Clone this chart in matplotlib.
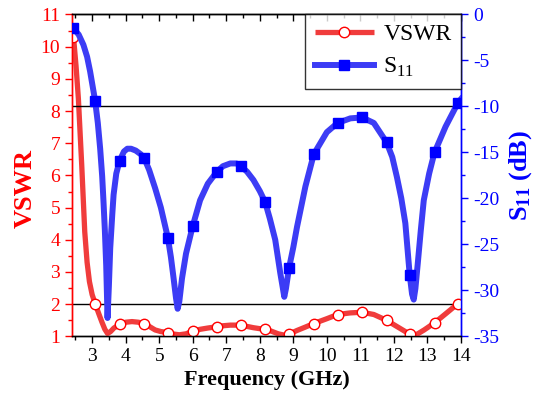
import numpy as np
import matplotlib
matplotlib.use('Agg')
import matplotlib.pyplot as plt
from matplotlib.ticker import MultipleLocator

plt.rcParams['font.family'] = ['Liberation Serif', 'DejaVu Serif']
plt.rcParams['mathtext.fontset'] = 'custom'
plt.rcParams['mathtext.rm'] = 'Liberation Serif'
plt.rcParams['mathtext.bf'] = 'Liberation Serif:bold'
plt.rcParams['axes.unicode_minus'] = False

# S11 curve (GHz, dB)
freq_s11 = [2.44, 2.6, 2.74, 2.85, 2.94, 3.09, 3.17, 3.24, 3.3, 3.34, 3.38, 3.42, 3.46,
            3.5, 3.54, 3.6, 3.64, 3.72, 3.82, 3.95, 4.05, 4.16, 4.3, 4.45, 4.55, 4.7,
            4.88, 5.05, 5.26, 5.35, 5.43, 5.5, 5.55, 5.6, 5.68, 5.8, 6.0, 6.22, 6.45,
            6.72, 6.9, 7.12, 7.3, 7.44, 7.62, 7.81, 8.0, 8.16, 8.3, 8.46, 8.61, 8.68,
            8.73, 8.78, 8.87, 9.0, 9.11, 9.36, 9.61, 10.0, 10.32, 10.7, 11.05, 11.4,
            11.78, 11.95, 12.09, 12.22, 12.34, 12.47, 12.54, 12.59, 12.64, 12.71, 12.8,
            12.89, 13.05, 13.21, 13.54, 13.91, 14.0]
s11 = [-1.5, -2.2, -3.3, -4.6, -6.2, -9.4, -11.8, -14.6, -17.6, -20.4, -23.5, -27.3, -33.0,
       -29.5, -25.4, -21.8, -19.6, -17.3, -15.9, -14.9, -14.6, -14.6, -14.8, -15.2, -15.6, -16.9,
       -18.9, -21.0, -24.3, -26.4, -28.7, -30.8, -32.0, -31.2, -28.7, -26.0, -23.0, -20.2, -18.4,
       -17.1, -16.5, -16.2, -16.2, -16.5, -17.1, -18.0, -19.2, -20.4, -22.2, -24.5, -28.1, -29.6,
       -30.7, -29.8, -27.6, -25.3, -23.1, -18.7, -15.2, -12.8, -11.8, -11.3, -11.2, -11.8,
       -13.9, -15.5, -17.7, -20.0, -22.7, -28.3, -30.4, -31.0, -29.8, -27.1, -23.5,
       -20.2, -17.3, -15.0, -12.2, -9.6, -9.2]

# VSWR curve
freq_vswr = [2.44, 2.52, 2.59, 2.69, 2.78, 2.85, 2.92, 3.0, 3.09, 3.2, 3.29, 3.38, 3.46,
             3.55, 3.65, 3.82, 4.0, 4.19, 4.38, 4.55, 4.72, 4.88, 5.05, 5.26, 5.45, 5.6,
             5.8, 6.0, 6.22, 6.45, 6.72, 6.9, 7.12, 7.3, 7.44, 7.62, 7.81, 8.0, 8.16,
             8.35, 8.55, 8.73, 8.87, 9.1, 9.36, 9.61, 10.0, 10.32, 10.7, 11.05, 11.4,
             11.78, 12.1, 12.34, 12.47, 12.59, 12.71, 12.9, 13.21, 13.54, 13.91, 14.0]
vswr = [10.36, 9.4, 8.39, 6.32, 4.25, 3.3, 2.7, 2.3, 2.02, 1.7, 1.45, 1.22, 1.09,
        1.15, 1.26, 1.37, 1.44, 1.46, 1.44, 1.40, 1.3, 1.2, 1.15, 1.12, 1.07, 1.05,
        1.08, 1.16, 1.22, 1.26, 1.30, 1.33, 1.35, 1.35, 1.34, 1.31, 1.27, 1.24, 1.22,
        1.16, 1.08, 1.04, 1.07, 1.18, 1.29, 1.40, 1.55, 1.68, 1.73, 1.75, 1.68,
        1.50, 1.3, 1.15, 1.07, 1.03, 1.08, 1.2, 1.42, 1.7, 2.02, 2.06]

# marker positions
freq_mk = [2.44, 3.09, 3.82, 4.55, 5.26, 6.0, 6.72, 7.44, 8.16, 8.87, 9.61, 10.32,
           11.05, 11.78, 12.47, 13.21, 13.91]
s11_mk = [-1.5, -9.4, -15.9, -15.6, -24.3, -23.0, -17.1, -16.5, -20.4, -27.6, -15.2,
          -11.8, -11.2, -13.9, -28.3, -15.0, -9.6]
vswr_mk = [10.3, 2.02, 1.37, 1.40, 1.12, 1.16, 1.30, 1.34, 1.22, 1.07, 1.40, 1.68,
           1.75, 1.50, 1.07, 1.42, 2.02]

fig = plt.figure(figsize=(5.43, 4.0), dpi=100)
ax = fig.add_axes([0.1326, 0.159, 0.7164, 0.805])
ax2 = ax.twinx()

# reference lines
ax.axhline(2, color='black', lw=1.0, zorder=1)
ax2.axhline(-10, color='black', lw=1.0, zorder=1)

l1, = ax.plot(freq_vswr, vswr, color='#f03c3c', lw=3.8, zorder=3, solid_capstyle='butt')
m1, = ax.plot(freq_mk, vswr_mk, linestyle='none', marker='o', ms=7.5, mfc='white',
              mec='#ff0000', mew=1.0, zorder=4)
l2, = ax2.plot(freq_s11, s11, color='#3c3cf5', lw=4.3, zorder=3)
m2, = ax2.plot(freq_mk, s11_mk, linestyle='none', marker='s', ms=7, mfc='#0000ff',
               mec='#0000ff', zorder=4)
ax2.set_zorder(ax.get_zorder() + 1)
ax2.patch.set_visible(False)

ax.set_xlim(2.4, 14)
ax.set_ylim(1, 11)
ax2.set_ylim(-35, 0)

ax.xaxis.set_major_locator(MultipleLocator(1))
ax.xaxis.set_minor_locator(MultipleLocator(0.5))
ax.yaxis.set_major_locator(MultipleLocator(1))
ax.yaxis.set_minor_locator(MultipleLocator(0.5))
ax2.yaxis.set_major_locator(MultipleLocator(5))
ax2.yaxis.set_minor_locator(MultipleLocator(2.5))

ax.tick_params(axis='x', which='both', direction='out', labelsize=14,
               colors='black', pad=3)
ax.tick_params(axis='x', which='major', length=5, width=1)
ax.tick_params(axis='x', which='minor', length=3, width=1)
ax.tick_params(axis='y', which='both', direction='out', labelsize=14,
               colors='#ff0000', width=1)
ax.tick_params(axis='y', which='major', length=5)
ax.tick_params(axis='y', which='minor', length=3)
ax2.tick_params(axis='y', which='both', direction='out', labelsize=14,
                colors='#0000ff', width=1)
ax2.tick_params(axis='y', which='major', length=5)
ax2.tick_params(axis='y', which='minor', length=3)

# top ticks pointing into the plot
sec = ax.secondary_xaxis('top')
sec.xaxis.set_major_locator(MultipleLocator(1))
sec.xaxis.set_minor_locator(MultipleLocator(0.5))
sec.tick_params(axis='x', which='both', direction='in', labeltop=False, width=1)
sec.tick_params(axis='x', which='major', length=5)
sec.tick_params(axis='x', which='minor', length=3)

for a in (ax, ax2):
    a.spines['left'].set_color('#ff0000')
    a.spines['right'].set_color('#0000ff')
    for s in a.spines.values():
        s.set_linewidth(1.0)

ax.set_xlabel('Frequency (GHz)', fontsize=16, fontweight='bold', labelpad=4)
ax.set_ylabel('VSWR', fontsize=19, fontweight='bold', color='#ff0000')
ax.yaxis.set_label_coords(-0.09, 0.46)
ax2.set_ylabel(r'$\mathbf{S_{11}}$ (dB)', fontsize=19, fontweight='bold',
               color='#0000ff', labelpad=6)

leg = ax2.legend([(l1, m1), (l2, m2)], ['VSWR', 'S$_{11}$'], loc='upper right',
                 fontsize=17, frameon=True, fancybox=False, edgecolor='black',
                 borderaxespad=0, handlelength=2.5, borderpad=0.4, labelspacing=0.45,
                 handletextpad=0.4)
leg.get_frame().set_linewidth(1.0)

fig.savefig('out.png', dpi=100)
